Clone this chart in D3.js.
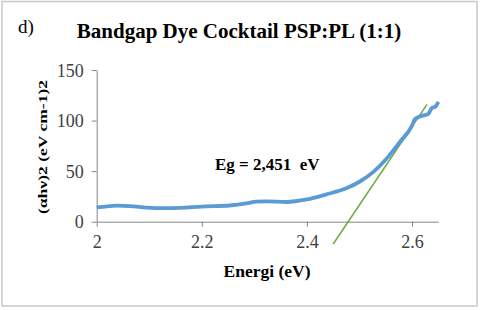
<!DOCTYPE html>
<html>
<head>
<meta charset="utf-8">
<script src="https://cdn.jsdelivr.net/npm/d3@7"></script>
<style>
  body { margin: 0; background: #fff; }
  svg text { font-family: "Times New Roman", "Liberation Serif", "DejaVu Serif", serif !important; }
  .tick text { font-size: 18px; }
</style>
</head>
<body>
<div id="chart"></div>
<script>
// Data
const energy = [2.0, 2.02, 2.038, 2.063, 2.095, 2.127, 2.159, 2.2, 2.253, 2.285, 2.304, 2.323, 2.361, 2.4, 2.437, 2.475, 2.5, 2.526, 2.551, 2.577, 2.6, 2.605, 2.615, 2.631, 2.637, 2.645, 2.65];
const absorb = [14.2, 15.2, 15.8, 15.5, 14, 13.4, 13.7, 15, 16, 18, 19.8, 20, 19.5, 22, 27, 33, 39.5, 49, 62, 79, 95, 101, 104, 106.5, 112, 114, 118.7];
const fitX = [2.45, 2.6285];
const fitY = [-22, 116];
const xTicks = [2, 2.2, 2.4, 2.6];
const yTicks = [0, 50, 100, 150];

const w = 480, h = 310;
const svg = d3.select("#chart").append("svg")
  .attr("width", w).attr("height", h);

// chart area border
svg.append("rect")
  .attr("x", 2).attr("y", 1.5).attr("width", 475).attr("height", 304.5)
  .attr("fill", "#fff").attr("stroke", "#c8c8c8").attr("stroke-width", 1.5);

const xScale = d3.scaleLinear().domain([2, 2.65]).range([96.7, 438.3]);
const yScale = d3.scaleLinear().domain([0, 150]).range([221.7, 70]);

// axes
const xAxis = d3.axisBottom(xScale).tickValues(xTicks).tickSize(5).tickSizeOuter(0)
  .tickFormat(d3.format("~g"));
const yAxis = d3.axisLeft(yScale).tickValues(yTicks).tickSize(5).tickSizeOuter(0);

const gx = svg.append("g").attr("transform", "translate(0," + yScale(0) + ")").call(xAxis);
const gy = svg.append("g").attr("transform", "translate(" + xScale(2) + ",0)").call(yAxis);

[gx, gy].forEach(g => {
  g.attr("font-size", 18);
  g.select(".domain").attr("stroke", "#868686");
  g.selectAll(".tick line").attr("stroke", "#868686");
  g.selectAll(".tick text").attr("fill", "#404040");
});
gx.selectAll(".tick text").attr("dy", null).attr("y", 26);
gy.selectAll(".tick text").attr("x", -13).attr("dy", "0.34em");

// clip to plot area for the fit line
svg.append("clipPath").attr("id", "clip")
  .append("rect").attr("x", 90).attr("y", 60).attr("width", 360).attr("height", 190);

// fit line
svg.append("line")
  .attr("clip-path", "url(#clip)")
  .attr("x1", xScale(fitX[0])).attr("y1", yScale(fitY[0]))
  .attr("x2", xScale(fitX[1])).attr("y2", yScale(fitY[1]))
  .attr("stroke", "#70ad47").attr("stroke-width", 1.6);

// data curve
const line = d3.line()
  .x((d, i) => xScale(energy[i]))
  .y(d => yScale(d))
  .curve(d3.curveMonotoneX);

svg.append("path")
  .datum(absorb)
  .attr("d", line)
  .attr("fill", "none")
  .attr("stroke", "#5b9bd5")
  .attr("stroke-width", 3.8)
  .attr("stroke-linejoin", "round");

// texts
svg.append("text").attr("x", 18).attr("y", 33)
  .style("font-size", "19px").attr("fill", "#000").text("d)");

svg.append("text").attr("x", 239).attr("y", 38)
  .attr("text-anchor", "middle")
  .style("font-size", "21px").style("font-weight", "bold")
  .text("Bandgap Dye Cocktail PSP:PL (1:1)");

svg.append("text").attr("x", 215).attr("y", 170)
  .style("font-size", "17px").style("font-weight", "bold")
  .text("Eg = 2,451\u00a0\u00a0eV");

svg.append("text").attr("x", 267).attr("y", 277)
  .attr("text-anchor", "middle")
  .style("font-size", "17.5px").style("font-weight", "bold")
  .text("Energi (eV)");

svg.append("text")
  .attr("transform", "translate(47,147) rotate(-90) scale(1.3,1)")
  .attr("text-anchor", "middle")
  .style("font-size", "13.5px").style("font-weight", "bold")
  .text("(αhν)2 (eV cm-1)2");
</script>
</body>
</html>
